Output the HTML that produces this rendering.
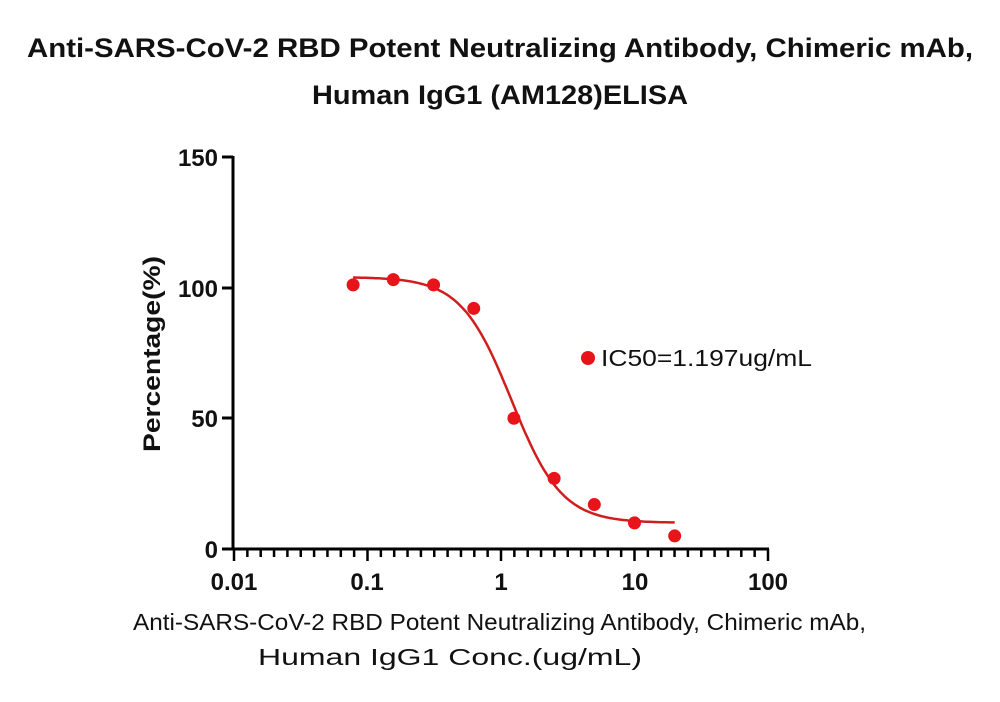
<!DOCTYPE html>
<html><head><meta charset="utf-8"><style>
body{margin:0;background:#fff;width:1000px;height:702px;overflow:hidden}
svg{display:block}
</style></head><body>
<svg id="s" width="1000" height="702" xmlns="http://www.w3.org/2000/svg" font-family="Liberation Sans, sans-serif">
<text x="27" y="57" textLength="946" lengthAdjust="spacingAndGlyphs" font-size="27" font-weight="bold" fill="#111">Anti-SARS-CoV-2 RBD Potent Neutralizing Antibody, Chimeric mAb,</text>
<text x="312" y="104" textLength="376" lengthAdjust="spacingAndGlyphs" font-size="27" font-weight="bold" fill="#111">Human IgG1 (AM128)ELISA</text>
<g stroke="#000" stroke-width="3" fill="none">
<line x1="233" y1="156" x2="233" y2="550"/>
<line x1="232" y1="549" x2="769" y2="549"/>
<line x1="222" y1="157" x2="233" y2="157"/>
<line x1="222" y1="288" x2="233" y2="288"/>
<line x1="222" y1="418" x2="233" y2="418"/>
<line x1="222" y1="549" x2="233" y2="549"/>
</g>
<g id="xt" stroke="#000" stroke-width="2.5"></g>
<g font-size="24" font-weight="bold" fill="#111" text-anchor="end">
<text x="218" y="166">150</text><text x="218" y="297">100</text><text x="218" y="427">50</text><text x="218" y="558">0</text>
</g>
<g font-size="24" font-weight="bold" fill="#111" text-anchor="middle">
<text x="234" y="590">0.01</text><text x="367" y="590">0.1</text><text x="501" y="590">1</text><text x="635" y="590">10</text><text x="768" y="590">100</text>
</g>
<text transform="translate(160,452) rotate(-90)" textLength="196" lengthAdjust="spacingAndGlyphs" font-size="24" font-weight="bold" fill="#111">Percentage(%)</text>
<text x="133" y="630" textLength="733" lengthAdjust="spacingAndGlyphs" font-size="23" fill="#111">Anti-SARS-CoV-2 RBD Potent Neutralizing Antibody, Chimeric mAb,</text>
<text x="258" y="665" textLength="384" lengthAdjust="spacingAndGlyphs" font-size="23" fill="#111">Human IgG1 Conc.(ug/mL)</text>
<path id="curve" fill="none" stroke="#d01e1e" stroke-width="2.5"/>
<g id="pts" fill="#e8141a"></g>
<circle cx="588" cy="358" r="7" fill="#e8141a"/>
<text x="601" y="366" textLength="211" lengthAdjust="spacingAndGlyphs" font-size="23" fill="#111">IC50=1.197ug/mL</text>
</svg>
<script>
var X=function(v){return 234+(Math.log10(v)+2)*133.5};
var Y=function(v){return 549-v*2.615};
var xt=document.getElementById('xt'),h='';
for(var i=0;i<=40;i++){var x=234+i*13.35;h+='<line x1="'+x+'" y1="549" x2="'+x+'" y2="'+(i%10==0?561:557)+'"/>';}
xt.innerHTML=h;
var f=function(c){return 10+94/(1+Math.pow(c/1.197,2.3))};
var p='';for(var i=0;i<=200;i++){var c=0.078*Math.pow(20/0.078,i/200);p+=(i?'L':'M')+X(c).toFixed(1)+' '+Y(f(c)).toFixed(1);}
document.getElementById('curve').setAttribute('d',p);
var xs=[0.078,0.156,0.3125,0.625,1.25,2.5,5,10,20],ys=[101,103,101,92,50,27,17,10,5],q='';
for(var i=0;i<9;i++)q+='<circle cx="'+X(xs[i])+'" cy="'+Y(ys[i])+'" r="6.5"/>';
document.getElementById('pts').innerHTML=q;
</script>
</body></html>
